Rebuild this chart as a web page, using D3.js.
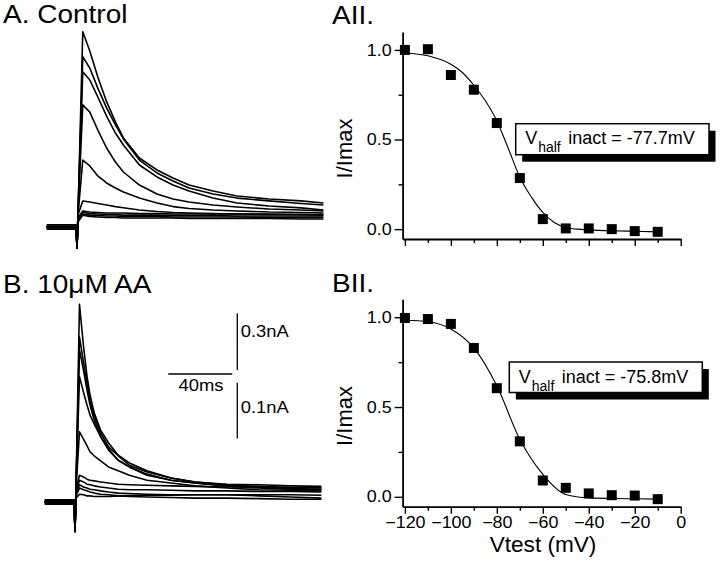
<!DOCTYPE html>
<html><head><meta charset="utf-8">
<script src="https://cdn.jsdelivr.net/npm/d3@7"></script>
<style>
body{margin:0;background:#fff}
svg{display:block}
text{font-family:"Liberation Sans",Arial,Helvetica,sans-serif;fill:#000}
</style>
</head><body>
<svg id="c" width="720" height="568"></svg>
<script>
// ---------- DATA ----------
// Panel A (control) current traces: time (ms) and current (nA)
const timeA = [-19, -0.5, 0, 0.6, 3.6, 8, 13, 18.5, 24, 29, 39, 50, 60, 70, 85, 100, 120, 140, 154];
const tracesA = [
  [0, 0, -0.111, 0.063, 1.033, 0.931, 0.794, 0.663, 0.556, 0.471, 0.365, 0.302, 0.259, 0.222, 0.190, 0.164, 0.148, 0.138, 0.127],
  [0, 0, -0.111, 0.063, 0.901, 0.841, 0.735, 0.630, 0.540, 0.466, 0.354, 0.286, 0.243, 0.206, 0.175, 0.153, 0.138, 0.124, 0.116],
  [0, 0, -0.111, 0.063, 0.822, 0.778, 0.688, 0.587, 0.497, 0.434, 0.328, 0.265, 0.222, 0.190, 0.153, 0.127, 0.111, 0.101, 0.090],
  [0, 0, -0.111, 0.063, 0.646, 0.608, 0.513, 0.418, 0.344, 0.291, 0.222, 0.175, 0.148, 0.132, 0.116, 0.106, 0.095, 0.090, 0.085],
  [0, 0, -0.111, 0.063, 0.354, 0.323, 0.270, 0.233, 0.206, 0.185, 0.153, 0.127, 0.108, 0.098, 0.090, 0.085, 0.079, 0.077, 0.074],
  [0, 0, -0.111, 0.063, 0.138, 0.132, 0.124, 0.116, 0.108, 0.102, 0.090, 0.082, 0.077, 0.074, 0.071, 0.069, 0.069, 0.066, 0.063],
  [0.011, 0.011, -0.111, 0.048, 0.085, 0.079, 0.077, 0.074, 0.074, 0.074, 0.071, 0.071, 0.069, 0.069, 0.069, 0.069, 0.066, 0.066, 0.066],
  [0.005, 0.005, -0.111, 0.037, 0.077, 0.071, 0.069, 0.066, 0.066, 0.063, 0.063, 0.063, 0.061, 0.061, 0.061, 0.058, 0.058, 0.058, 0.058],
  [-0.005, -0.005, -0.111, 0.032, 0.069, 0.063, 0.061, 0.058, 0.058, 0.056, 0.056, 0.056, 0.053, 0.053, 0.053, 0.053, 0.050, 0.050, 0.050],
  [-0.011, -0.011, -0.111, 0.026, 0.063, 0.056, 0.053, 0.050, 0.050, 0.048, 0.048, 0.048, 0.048, 0.045, 0.045, 0.045, 0.045, 0.042, 0.042]
];
// Panel B (10 uM AA) current traces
const timeB = [-19, -0.5, 0, 0.6, 2.8, 5.3, 7.5, 9.4, 12, 16, 21, 27, 34, 45, 60, 75, 95, 115, 135, 154];
const tracesB = [
  [0, 0, -0.053, 0.022, 0.355, 0.280, 0.226, 0.192, 0.160, 0.129, 0.106, 0.084, 0.070, 0.056, 0.043, 0.036, 0.032, 0.031, 0.029, 0.028],
  [0, 0, -0.053, 0.022, 0.296, 0.251, 0.214, 0.180, 0.154, 0.124, 0.099, 0.083, 0.066, 0.054, 0.043, 0.036, 0.031, 0.028, 0.026, 0.025],
  [0, 0, -0.053, 0.022, 0.273, 0.237, 0.201, 0.174, 0.147, 0.117, 0.093, 0.075, 0.063, 0.050, 0.039, 0.034, 0.029, 0.026, 0.024, 0.023],
  [0, 0, -0.053, 0.022, 0.225, 0.197, 0.174, 0.156, 0.140, 0.118, 0.095, 0.075, 0.063, 0.048, 0.039, 0.034, 0.029, 0.025, 0.023, 0.022],
  [0, 0, -0.053, 0.022, 0.126, 0.113, 0.101, 0.090, 0.083, 0.074, 0.063, 0.056, 0.048, 0.039, 0.034, 0.029, 0.025, 0.022, 0.021, 0.020],
  [0.004, 0.004, -0.053, 0.022, 0.048, 0.045, 0.041, 0.039, 0.038, 0.036, 0.034, 0.032, 0.031, 0.030, 0.029, 0.028, 0.027, 0.027, 0.026, 0.026],
  [0.002, 0.002, -0.053, 0.018, 0.039, 0.036, 0.032, 0.031, 0.029, 0.027, 0.025, 0.023, 0.022, 0.022, 0.021, 0.020, 0.020, 0.019, 0.019, 0.018],
  [-0.002, -0.002, -0.053, 0.014, 0.031, 0.027, 0.025, 0.023, 0.022, 0.020, 0.018, 0.016, 0.015, 0.014, 0.013, 0.013, 0.013, 0.013, 0.013, 0.012],
  [0, 0, -0.053, 0.011, 0.025, 0.022, 0.020, 0.018, 0.016, 0.014, 0.013, 0.011, 0.010, 0.009, 0.008, 0.007, 0.007, 0.006, 0.005, 0.005],
  [-0.004, -0.004, -0.053, 0.007, 0.014, 0.013, 0.011, 0.011, 0.010, 0.010, 0.010, 0.011, 0.011, 0.012, 0.012, 0.013, 0.013, 0.011, 0.009, 0.007]
];
// Inactivation data
const vTest = [-120, -110, -100, -90, -80, -70, -60, -50, -40, -30, -20, -10];
const iControl = [1.0, 1.004, 0.86, 0.778, 0.592, 0.285, 0.056, 0.004, 0.004, 0.0, -0.011, -0.015];
const iAA = [0.996, 0.99, 0.963, 0.829, 0.605, 0.309, 0.091, 0.05, 0.019, 0.009, 0.007, -0.013];
// Fitted curves
const fitVA = [-120, -110, -100, -95, -90, -85, -80, -75, -70, -65, -60, -55, -50, -45, -40, -30, -20, -10];
const fitIA = [0.983, 0.967, 0.92, 0.874, 0.803, 0.716, 0.604, 0.450, 0.29, 0.18, 0.093, 0.037, 0.009, 0.0, -0.004, -0.009, -0.012, -0.015];
const fitVB = [-120, -110, -100, -90, -80, -70, -60, -50, -40, -30, -20, -10];
const fitIB = [0.983, 0.975, 0.935, 0.829, 0.618, 0.32, 0.125, 0.013, -0.006, -0.009, -0.011, -0.013];
const xMajorTicks = [-120, -100, -80, -60, -40, -20, 0];
const xMinorTicks = [-110, -90, -70, -50, -30, -10];
const yMajorTicks = [0, 0.5, 1.0];
const yMinorTicks = [0.25, 0.75];
const vhalfA = "-77.7mV", vhalfB = "-75.8mV";

// ---------- DRAW ----------
const svg = d3.select("#c");
svg.append("rect").attr("width",720).attr("height",568).attr("fill","#fff");

function label(x, y, txt, size, sx, anchor) {
  svg.append("text").attr("transform", `translate(${x},${y}) scale(${sx||1},1)`)
    .attr("font-size", size).attr("text-anchor", anchor || "start").text(txt);
}

// Panel titles
label(3, 23.3, "A. Control", 25, 1.12);
label(332, 24, "AII.", 25, 1.12);
label(3, 292.7, "B. 10\u03bcM AA", 25, 1.12);
label(332, 291.7, "BII.", 25, 1.12);

// Trace scales
const xA = d3.scaleLinear().domain([0, 40]).range([77, 141]);
const yA = d3.scaleLinear().domain([0, 0.3]).range([227, 170.3]);
const xB = d3.scaleLinear().domain([0, 40]).range([75, 139]);
const yB = d3.scaleLinear().domain([0, 0.1]).range([502, 446.3]);

function drawTraces(times, traces, xs, ys) {
  const line = d3.line().x((d, i) => xs(times[i])).y(d => ys(d));
  svg.append("g").selectAll("path").data(traces).join("path")
    .attr("d", line).attr("fill", "none").attr("stroke", "#000")
    .attr("stroke-width", 1.6).attr("stroke-linejoin", "round");
}
drawTraces(timeA, tracesA, xA, yA);
drawTraces(timeB, tracesB, xB, yB);

// Scale bars
const sb = svg.append("g").attr("stroke", "#000").attr("stroke-width", 1.3);
const hx0 = 168.3, hy = 374;
sb.append("line").attr("x1", hx0).attr("x2", hx0 + (xB(40) - xB(0))).attr("y1", hy).attr("y2", hy);
const vx = 237.3, vTop = 313.3, vTop2 = 382.7;
sb.append("line").attr("x1", vx).attr("x2", vx).attr("y1", vTop).attr("y2", vTop + (yA(0) - yA(0.3)));
sb.append("line").attr("x1", vx).attr("x2", vx).attr("y1", vTop2).attr("y2", vTop2 + (yB(0) - yB(0.1)));
label(201, 391, "40ms", 16, 1.15, "middle");
label(240.7, 337.3, "0.3nA", 16, 1.15);
label(240.7, 413.3, "0.1nA", 16, 1.15);

// IV panels
const SX = 1.12; // horizontal stretch of the figure lettering
function ivPanel(yTop, yBot, pts, fitV, fitI, showX, vtxt, box) {
  const x = d3.scaleLinear().domain([-121, 0]).range([402.6, 680.7]);
  const y = d3.scaleLinear().domain([-0.055, 1.1]).range([yBot, yTop]);
  const g = svg.append("g");
  // x axis
  const xax = g.append("g").attr("transform", `translate(0,${yBot})`);
  xax.call(d3.axisBottom(x).tickValues(xMajorTicks).tickSize(7).tickSizeOuter(0).tickPadding(3)
      .tickFormat(showX ? d3.format("d") : () => ""));
  xax.append("g").call(d3.axisBottom(x).tickValues(xMinorTicks).tickSize(4).tickSizeOuter(0).tickFormat(() => ""))
      .select(".domain").remove();
  xax.selectAll(".tick text").attr("transform", `scale(${SX},1)`);
  // y axis
  const yax = g.append("g").attr("transform", `translate(${x(-121)},0)`);
  yax.call(d3.axisLeft(y).tickValues(yMajorTicks).tickSize(8).tickSizeOuter(0).tickPadding(3).tickFormat(d3.format(".1f")));
  yax.append("g").call(d3.axisLeft(y).tickValues(yMinorTicks).tickSize(4).tickSizeOuter(0).tickFormat(() => ""))
      .select(".domain").remove();
  yax.selectAll(".tick text").attr("x", -11 / SX).attr("transform", `scale(${SX},1)`);
  g.selectAll(".domain").attr("stroke-width", 1.8);
  g.selectAll(".tick line").attr("stroke-width", 1.4);
  g.selectAll(".tick text").attr("font-size", 16).attr("font-family", '"Liberation Sans",Arial,sans-serif');
  // y title
  g.append("text").attr("transform", `translate(352,${(yTop + yBot) / 2 + 13}) rotate(-90)`)
    .attr("text-anchor", "middle").attr("font-size", 22).text("I/Imax");
  if (showX) {
    g.append("text").attr("transform", `translate(543,${yBot + 44.8}) scale(1.05,1)`).attr("text-anchor", "middle")
      .attr("font-size", 21.5).text("Vtest (mV)");
  }
  // fit line
  g.append("path").datum(fitV.map((v, i) => [v, fitI[i]]))
    .attr("d", d3.line().x(d => x(d[0])).y(d => y(d[1])).curve(d3.curveMonotoneX))
    .attr("fill", "none").attr("stroke", "#000").attr("stroke-width", 1.1);
  // points
  g.append("g").selectAll("rect").data(pts).join("rect")
    .attr("x", d => x(d[0]) - 5).attr("y", d => y(d[1]) - 5)
    .attr("width", 10).attr("height", 10).attr("fill", "#000");
  // annotation box
  const [bx, by, bw, bh] = box;
  g.append("rect").attr("x", bx + 6.5).attr("y", by + 7).attr("width", bw).attr("height", bh).attr("fill", "#000");
  g.append("rect").attr("x", bx).attr("y", by).attr("width", bw).attr("height", bh)
    .attr("fill", "#fff").attr("stroke", "#000").attr("stroke-width", 1.5);
  const t = g.append("text").attr("font-size", 18);
  t.append("tspan").attr("x", bx + 9.5).attr("y", by + 20.5).text("V");
  t.append("tspan").attr("x", bx + 22.5).attr("y", by + 28.5).attr("font-size", 14).text("half");
  t.append("tspan").attr("x", bx + 52.5).attr("y", by + 20.5).text("inact = " + vtxt);
}
ivPanel(32, 239, vTest.map((v, i) => [v, iControl[i]]), fitVA, fitIA, false, vhalfA, [515.7, 123.7, 193.3, 31]);
ivPanel(299.3, 506.7, vTest.map((v, i) => [v, iAA[i]]), fitVB, fitIB, true, vhalfB, [509.3, 362, 193, 30.5]);
</script>
</body></html>
